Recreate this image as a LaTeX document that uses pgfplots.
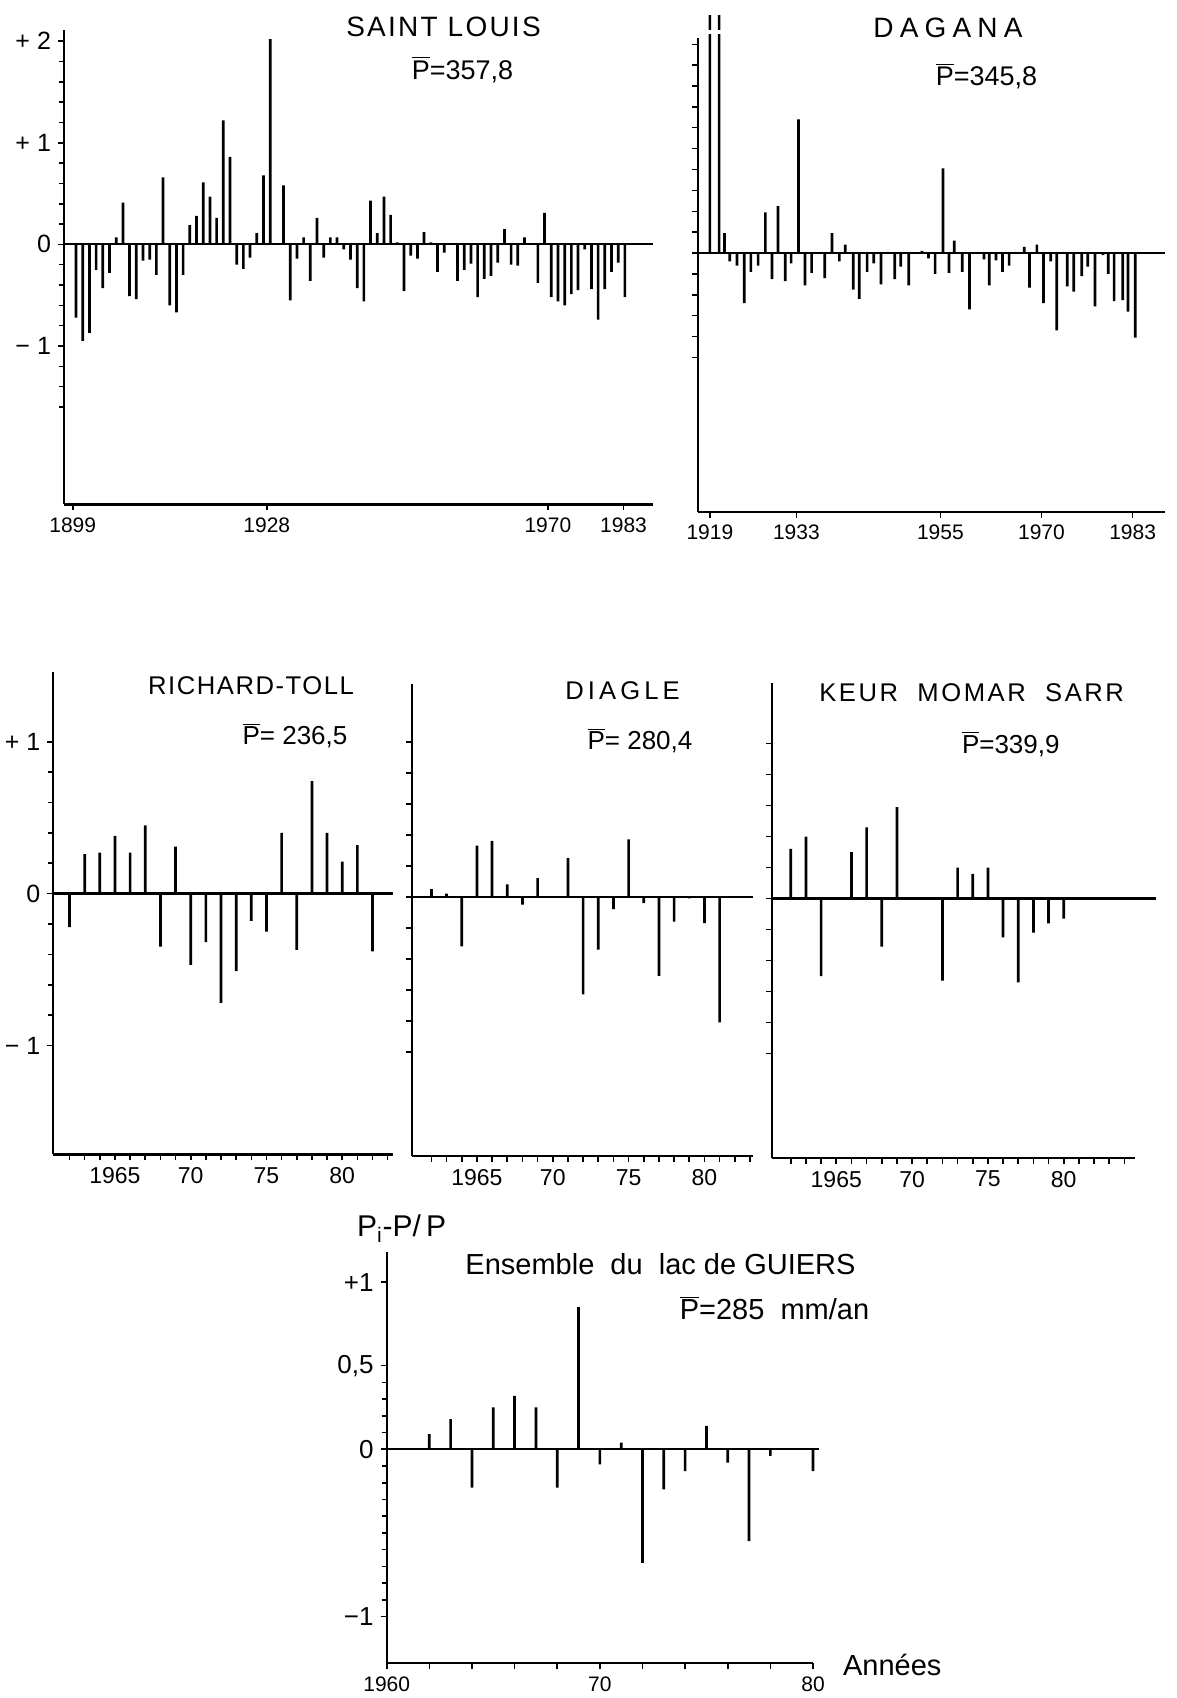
\documentclass[border=0pt]{standalone}
\usepackage{pgfplots}
\pgfplotsset{compat=1.18}
\usepackage{fontspec}
\setmainfont{Liberation Sans}
\begin{document}
\begin{tikzpicture}
\useasboundingbox (0,0) rectangle (588.5pt,849pt);
\pgfplotsset{
  panel/.style={
    scale only axis, clip=false, anchor=south west,
    axis x line*=bottom, axis y line*=left,
    axis line style={line width=1.1pt},
    tick align=outside,
    tick style={black, line width=0.8pt},
    major tick length=3pt, minor tick length=2.6pt,
    /pgf/number format/assume math mode=true,
    tick label style={font=\fontsize{11.5}{12}\selectfont},
  },
  bars/.style={ybar, bar width=1.35pt, fill=black, draw=none},
  zero/.style={black, line width=1.1pt},
}
% ---------------- SAINT LOUIS ----------------
\begin{axis}[panel, at={(32pt,596.75pt)}, width=294.5pt, height=237.25pt,
  xmin=1897.2, xmax=1985.2, ymin=-2.56, ymax=2.11,
  xtick={1898.5,1927.5,1969.5,1980.8}, xticklabels={1899,1928,1970,1983},
  ytick={-1,0,1,2}, yticklabels={− 1,0,+ 1,+ 2},
  minor ytick={-1.6,-1.4,-1.2,-0.8,-0.6,-0.4,-0.2,0.2,0.4,0.6,0.8,1.2,1.4,1.6,1.8},
  x tick label style={font=\fontsize{10.5}{12}\selectfont},
  y tick label style={font=\fontsize{12.5}{13}\selectfont},
]
\addplot[zero] coordinates {(1897.2,0) (1985.2,0)};
\addplot[bars] coordinates {
(1899,-0.72) (1900,-0.95) (1901,-0.87) (1902,-0.25) (1903,-0.43) (1904,-0.28)
(1905,0.07) (1906,0.41) (1907,-0.51) (1908,-0.54) (1909,-0.16) (1910,-0.15)
(1911,-0.30) (1912,0.66) (1913,-0.60) (1914,-0.67) (1915,-0.30) (1916,0.19)
(1917,0.28) (1918,0.61) (1919,0.47) (1920,0.26) (1921,1.22) (1922,0.86)
(1923,-0.20) (1924,-0.24) (1925,-0.13) (1926,0.11) (1927,0.68) (1928,2.02)
(1930,0.58) (1931,-0.55) (1932,-0.14) (1933,0.07) (1934,-0.36) (1935,0.26)
(1936,-0.13) (1937,0.07) (1938,0.07) (1939,-0.05) (1940,-0.15) (1941,-0.43)
(1942,-0.56) (1943,0.43) (1944,0.11) (1945,0.47) (1946,0.29) (1947,0.02)
(1948,-0.46) (1949,-0.11) (1950,-0.14) (1951,0.12) (1952,0.02) (1953,-0.27)
(1954,-0.08) (1955,0.01) (1956,-0.36) (1957,-0.25) (1958,-0.19) (1959,-0.52)
(1960,-0.34) (1961,-0.31) (1962,-0.18) (1963,0.15) (1964,-0.20) (1965,-0.21)
(1966,0.07) (1967,0.01) (1968,-0.38) (1969,0.31) (1970,-0.52) (1971,-0.56)
(1972,-0.60) (1973,-0.49) (1974,-0.45) (1975,-0.05) (1976,-0.44) (1977,-0.74)
(1978,-0.44) (1979,-0.27) (1980,-0.18) (1981,-0.52)
};
\end{axis}
% ---------------- DAGANA ----------------
\begin{axis}[panel, at={(349pt,593pt)}, width=233.5pt, height=237pt,
  xmin=1917.2, xmax=1987.9, ymin=-2.48, ymax=2.06,
  xtick={1919,1932.1,1953.9,1969.2,1983}, xticklabels={1919,1933,1955,1970,1983},
  ytick={-1,-0.8,...,2}, yticklabels={},
  x tick label style={font=\fontsize{10.5}{12}\selectfont},
  ytick style={line width=0.7pt}, major tick length=2.8pt,
]
\addplot[zero] coordinates {(1917.2,0) (1987.9,0)};
\addplot[bars] coordinates {
(1919.0,2.28) (1920.4,2.28) (1921.2,0.19) (1922.0,-0.08) (1923.1,-0.12)
(1924.2,-0.48) (1925.2,-0.18) (1926.3,-0.12) (1927.4,0.39) (1928.4,-0.25)
(1929.3,0.45) (1930.4,-0.27) (1931.3,-0.10) (1932.4,1.28) (1933.4,-0.31)
(1934.4,-0.19) (1936.4,-0.24) (1937.5,0.19) (1938.6,-0.08) (1939.5,0.08)
(1940.7,-0.35) (1941.6,-0.44) (1942.8,-0.18) (1943.8,-0.10) (1944.9,-0.30)
(1947.0,-0.25) (1947.9,-0.13) (1949.1,-0.31) (1950.0,0.01) (1951.1,0.02)
(1952.1,-0.05) (1953.1,-0.20) (1954.3,0.81) (1955.2,-0.19) (1956.0,0.12)
(1957.2,-0.18) (1958.3,-0.54) (1960.5,-0.06) (1961.3,-0.31) (1962.3,-0.07)
(1963.3,-0.18) (1964.3,-0.12) (1966.6,0.06) (1967.4,-0.33) (1968.5,0.08)
(1969.5,-0.48) (1970.6,-0.08) (1971.5,-0.74) (1973.1,-0.32) (1974.1,-0.37)
(1975.3,-0.22) (1976.2,-0.13) (1977.3,-0.51) (1978.5,-0.02) (1979.3,-0.20)
(1980.2,-0.46) (1981.5,-0.45) (1982.3,-0.56) (1983.4,-0.81)
};
\draw[white, line width=2pt] (axis cs:1918.3,2.12) -- (axis cs:1921.1,2.12);
\end{axis}
% ---------------- RICHARD-TOLL ----------------
\begin{axis}[panel, at={(26.65pt,271.75pt)}, width=169.85pt, height=241pt,
  xmin=1960.93, xmax=1983.35, ymin=-1.718, ymax=1.456,
  xtick={1962,...,1983}, xticklabels={,,,1965,,,,,70,,,,,75,,,,,80,,,},
  ytick={-1,0,1}, yticklabels={− 1,0,+ 1},
  minor ytick={-0.8,-0.6,-0.4,-0.2,0.2,0.4,0.6,0.8},
  y tick label style={font=\fontsize{12.5}{13}\selectfont},
]
\addplot[zero] coordinates {(1960.93,0) (1983.35,0)};
\addplot[bars] coordinates {
(1962,-0.22) (1963,0.26) (1964,0.27) (1965,0.38) (1966,0.27) (1967,0.45)
(1968,-0.35) (1969,0.31) (1970,-0.47) (1971,-0.32) (1972,-0.72) (1973,-0.51)
(1974,-0.18) (1975,-0.25) (1976,0.40) (1977,-0.37) (1978,0.74) (1979,0.40)
(1980,0.21) (1981,0.32) (1982,-0.38)
};
\end{axis}
% ---------------- DIAGLE ----------------
\begin{axis}[panel, at={(205.85pt,270.9pt)}, width=170.65pt, height=235.9pt,
  xmin=1960.7, xmax=1983.2, ymin=-1.673, ymax=1.37,
  xtick={1962,...,1983}, xticklabels={,,,1965,,,,,70,,,,,75,,,,,80,,,},
  ytick={-1,-0.8,...,1}, yticklabels={},
]
\addplot[zero] coordinates {(1960.7,0) (1983.2,0)};
\addplot[bars] coordinates {
(1962,0.05) (1963,0.02) (1964,-0.32) (1965,0.33) (1966,0.36) (1967,0.08)
(1968,-0.05) (1969,0.12) (1971,0.25) (1972,-0.63) (1973,-0.34) (1974,-0.08)
(1975,0.37) (1976,-0.04) (1977,-0.51) (1978,-0.16) (1979,-0.01) (1980,-0.17)
(1981,-0.81)
};
\end{axis}
% ---------------- KEUR MOMAR SARR ----------------
\begin{axis}[panel, at={(386pt,270pt)}, width=181.5pt, height=237.65pt,
  xmin=1960.76, xmax=1984.7, ymin=-1.674, ymax=1.393,
  xtick={1962,...,1984}, xticklabels={,,,1965,,,,,70,,,,,75,,,,,80,,,,},
  ytick={-1,-0.8,...,1}, yticklabels={},
]
\addplot[zero] coordinates {(1960.76,0) (1986.1,0)};
\addplot[bars] coordinates {
(1962,0.32) (1963,0.40) (1964,-0.50) (1965,0.01) (1966,0.30) (1967,0.46)
(1968,-0.31) (1969,0.59) (1972,-0.53) (1973,0.20) (1974,0.16) (1975,0.20)
(1976,-0.25) (1977,-0.54) (1978,-0.22) (1979,-0.16) (1980,-0.13)
};
\end{axis}
% ---------------- ENSEMBLE ----------------
\begin{axis}[panel, at={(193.35pt,17.35pt)}, width=213.15pt, height=205.65pt,
  xmin=1960, xmax=1980, ymin=-1.28, ymax=1.18,
  xtick={1960,1962,...,1980}, xticklabels={1960,,,,,70,,,,,80},
  ytick={-1,0,0.5,1}, yticklabels={−1,0,{0,5},+1},
  minor ytick={-0.9,-0.8,-0.7,-0.6,-0.5,-0.4,-0.3,-0.2,-0.1,0.1,0.2,0.3,0.4},
  x tick label style={font=\fontsize{10.5}{11}\selectfont},
  y tick label style={font=\fontsize{13}{13}\selectfont},
]
\addplot[zero] coordinates {(1960,0) (1980.3,0)};
\addplot[bars] coordinates {
(1962,0.09) (1963,0.18) (1964,-0.23) (1965,0.25) (1966,0.32) (1967,0.25)
(1968,-0.23) (1969,0.85) (1970,-0.09) (1971,0.04) (1972,-0.68) (1973,-0.24)
(1974,-0.13) (1975,0.14) (1976,-0.08) (1977,-0.55) (1978,-0.04) (1980,-0.13)
};
\end{axis}
% ---------------- TEXTS ----------------
\node[anchor=base, font=\fontsize{14}{16}\selectfont\addfontfeature{LetterSpace=8}] at (221.75pt,830.9pt) {SAINT LOUIS};
\node[anchor=base, font=\fontsize{13.5}{15}\selectfont] at (231.25pt,809.4pt) {$\overline{\mbox{P}}$=357,8};
\node[anchor=base, font=\fontsize{14}{16}\selectfont\addfontfeature{LetterSpace=22}] at (474pt,830pt) {DAGANA};
\node[anchor=base, font=\fontsize{13.5}{15}\selectfont] at (493.25pt,806pt) {$\overline{\mbox{P}}$=345,8};
\node[anchor=base, font=\fontsize{12.8}{15}\selectfont\addfontfeature{LetterSpace=6}] at (125.5pt,501.6pt) {RICHARD-TOLL};
\node[anchor=base, font=\fontsize{13}{15}\selectfont] at (147.5pt,476.6pt) {$\overline{\mbox{P}}$= 236,5};
\node[anchor=base, font=\fontsize{12.8}{15}\selectfont\addfontfeature{LetterSpace=16}] at (311.25pt,499pt) {DIAGLE};
\node[anchor=base, font=\fontsize{13}{15}\selectfont] at (320pt,474pt) {$\overline{\mbox{P}}$= 280,4};
\node[anchor=base, font=\fontsize{12.8}{15}\selectfont\addfontfeature{LetterSpace=10}] at (485.8pt,498.1pt) {KEUR\ \ MOMAR\ \ SARR};
\node[anchor=base, font=\fontsize{13}{15}\selectfont] at (505.4pt,472.3pt) {$\overline{\mbox{P}}$=339,9};
\node[anchor=base west, font=\fontsize{15}{17}\selectfont] at (175pt,230.6pt) {P\textsubscript{i}-P/\,P};
\node[anchor=base, font=\fontsize{14.5}{16}\selectfont] at (330.25pt,211.5pt) {Ensemble\ \ du\ \ lac de GUIERS};
\node[anchor=base, font=\fontsize{14.5}{16}\selectfont] at (387.25pt,189pt) {$\overline{\mbox{P}}$=285\ \ mm/an};
\node[anchor=base west, font=\fontsize{14.5}{16}\selectfont] at (418pt,11.5pt) {Années};
\end{tikzpicture}
\end{document}
